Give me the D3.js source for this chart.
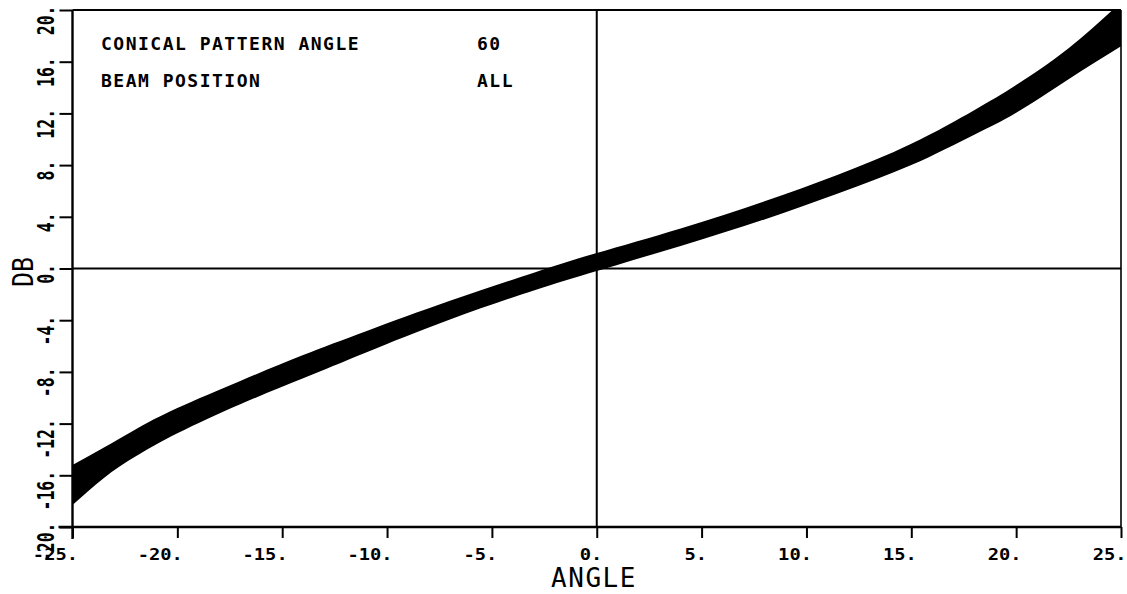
<!DOCTYPE html>
<html>
<head>
<meta charset="utf-8">
<script src="https://cdn.jsdelivr.net/npm/d3@7/dist/d3.min.js"></script>
<style>
  html, body { margin: 0; padding: 0; background: #fff; }
  svg { display: block; }
  text { font-family: "DejaVu Sans Mono", "Liberation Mono", monospace; fill: #000; }
</style>
</head>
<body>
<svg id="chart" width="1127" height="594"></svg>
<script>
// Scan angle (deg) against the upper and lower edges of the response envelope (dB)
const angles  = [-25, -23.5, -22, -20, -17, -14, -11, -7, -3, 0, 4, 8, 11.5, 15, 18, 20, 22.5, 25];
const upperDb = [-15.2, -13.85, -12.45, -10.8, -8.7, -6.7, -4.85, -2.5, -0.32, 1.2, 3.1, 5.2, 7.25, 9.65, 12.25, 14.2, 17.05, 20.6];
const lowerDb = [-18.3, -16.2, -14.55, -12.75, -10.5, -8.5, -6.5, -3.95, -1.7, -0.2, 1.75, 3.8, 5.8, 8.0, 10.35, 12.05, 14.65, 17.2];

const xTicks = [-25, -20, -15, -10, -5, 0, 5, 10, 15, 20, 25];
const yTicks = [-20, -16, -12, -8, -4, 0, 4, 8, 12, 16, 20];

const annotationLabels = ["CONICAL PATTERN ANGLE", "BEAM POSITION"];
const annotationValues = ["60", "ALL"];

const plotL = 72.5, plotR = 1121, plotT = 10, plotB = 527;

const svg = d3.select("#chart");
const x = d3.scaleLinear().domain([-25, 25]).range([plotL, plotR]);
const y = d3.scaleLinear().domain([-20, 20]).range([plotB, plotT]);

svg.append("defs").append("clipPath").attr("id", "plotClip")
  .append("rect").attr("x", plotL).attr("y", plotT)
  .attr("width", plotR - plotL).attr("height", plotB - plotT);

// Zero reference lines
svg.append("line").attr("x1", x(0)).attr("x2", x(0)).attr("y1", plotT).attr("y2", plotB)
  .attr("stroke", "#000").attr("stroke-width", 2);
svg.append("line").attr("x1", plotL).attr("x2", plotR).attr("y1", y(0)).attr("y2", y(0))
  .attr("stroke", "#000").attr("stroke-width", 2);

// Filled envelope between the lower and upper edges
const band = angles.map((a, i) => ({ a, hi: upperDb[i], lo: lowerDb[i] }));
const area = d3.area()
  .x(d => x(d.a))
  .y0(d => y(d.lo))
  .y1(d => y(d.hi))
  .curve(d3.curveNatural);
svg.append("path").datum(band)
  .attr("clip-path", "url(#plotClip)")
  .attr("d", area)
  .attr("fill", "#000");

// Top and right frame
svg.append("line").attr("x1", plotL).attr("x2", plotR).attr("y1", plotT).attr("y2", plotT)
  .attr("stroke", "#000").attr("stroke-width", 2);
svg.append("line").attr("x1", plotR).attr("x2", plotR).attr("y1", plotT).attr("y2", plotB)
  .attr("stroke", "#000").attr("stroke-width", 1.6);

// Bottom axis
const xAxis = svg.append("g").attr("transform", `translate(0,${plotB})`)
  .call(d3.axisBottom(x).tickValues(xTicks).tickFormat(d => d + ".").tickSize(11).tickSizeOuter(0));
xAxis.select(".domain").attr("stroke-width", 2.4).attr("d", `M${plotL - 14},0H${plotR}`);
xAxis.selectAll(".tick line").attr("stroke-width", 2);
xAxis.selectAll(".tick text")
  .attr("text-anchor", "end")
  .attr("x", null).attr("y", null).attr("dy", null)
  .attr("transform", "translate(5,33) scale(1.25,1)")
  .style("font-size", "15px")
  .style("font-weight", "bold");

// Left axis
const yAxis = svg.append("g").attr("transform", `translate(${plotL},0)`)
  .call(d3.axisLeft(y).tickValues(yTicks).tickFormat(d => d + ".").tickSize(13).tickSizeOuter(0));
yAxis.select(".domain").attr("stroke-width", 2.4).attr("d", `M0,${plotT}V${plotB + 12}`);
yAxis.selectAll(".tick line").attr("stroke-width", 2);
yAxis.selectAll(".tick text")
  .attr("x", null).attr("dy", null)
  .attr("text-anchor", "end")
  .attr("transform", "translate(-19,-5) rotate(-90) scale(1.1,1.55)")
  .style("font-size", "15px")
  .style("font-weight", "bold");

// Axis titles
svg.append("text")
  .attr("transform", `translate(33,272) rotate(-90) scale(1,1.1)`)
  .attr("text-anchor", "middle")
  .style("font-size", "25px")
  .text("DB");
svg.append("text")
  .attr("x", 594).attr("y", 587)
  .attr("text-anchor", "middle")
  .style("font-size", "26px")
  .style("letter-spacing", "1.5px")
  .text("ANGLE");

// Annotation block
const rowBaselines = [50, 87];
annotationLabels.forEach((t, i) => {
  svg.append("text").attr("x", 101).attr("y", rowBaselines[i])
    .style("font-size", "18px").style("font-weight", "bold").style("letter-spacing", "1.5px")
    .text(t);
  svg.append("text").attr("x", 477).attr("y", rowBaselines[i])
    .style("font-size", "18px").style("font-weight", "bold").style("letter-spacing", "1.5px")
    .text(annotationValues[i]);
});
</script>
</body>
</html>
